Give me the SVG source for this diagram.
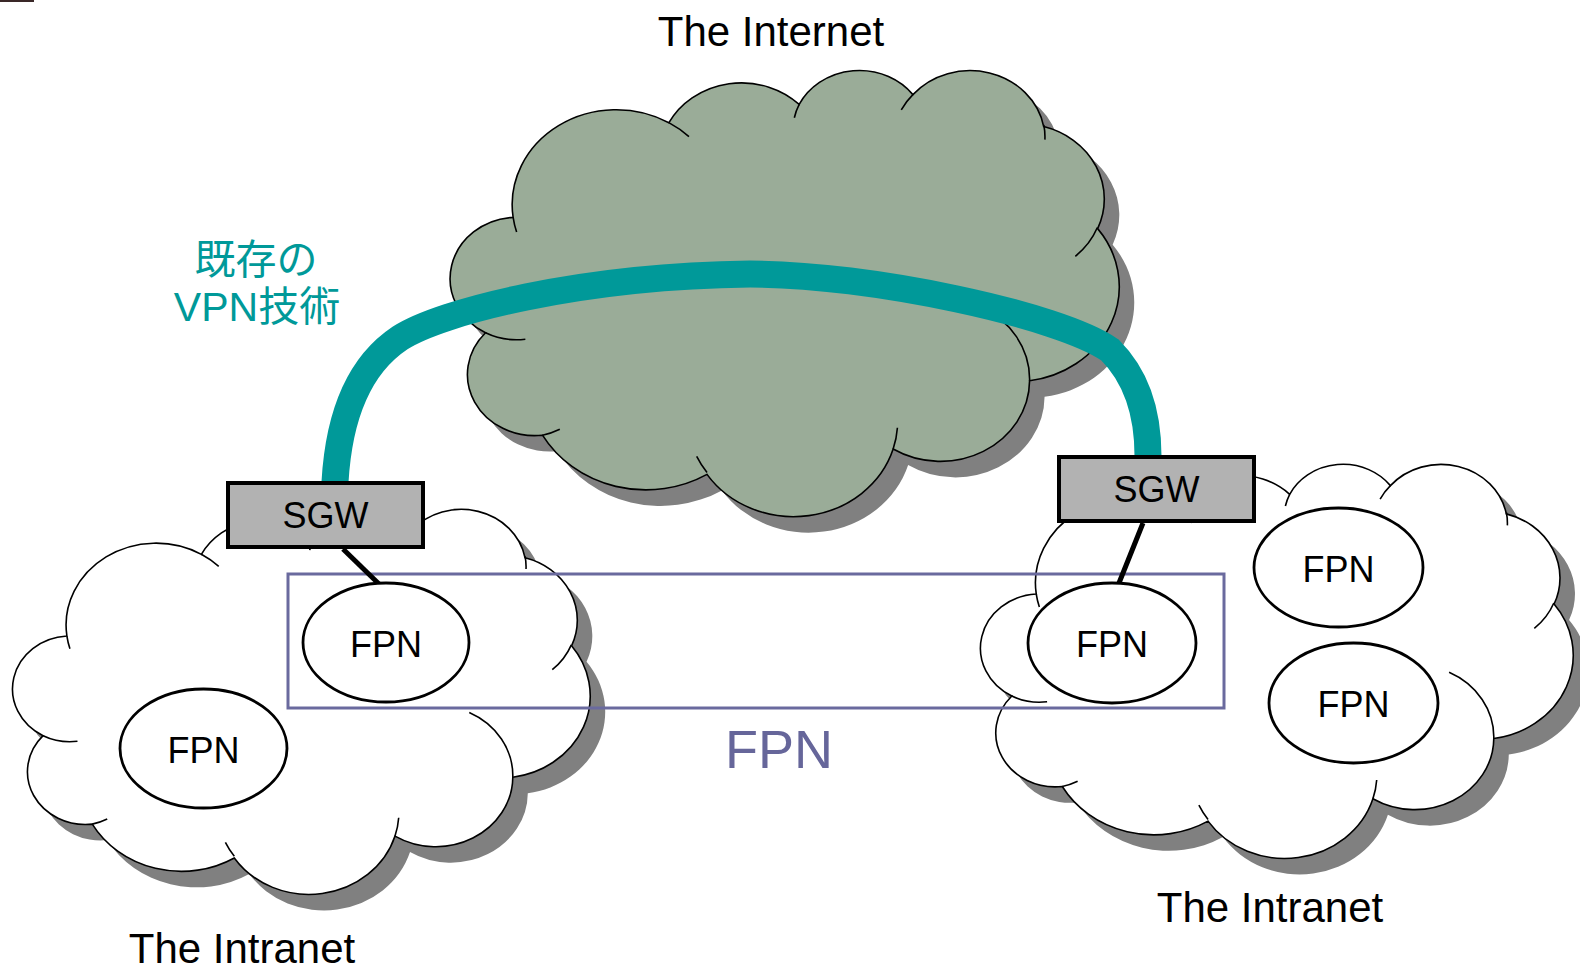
<svg xmlns="http://www.w3.org/2000/svg" width="1580" height="970" viewBox="0 0 1580 970">
<style>
  .shadow{fill:#808080;stroke:none;}
  .body-net{fill:#9AAC98;stroke:#000;stroke-width:1.6;}
  .body-intra{fill:#FFFFFF;stroke:#000;stroke-width:1.6;}
  .arcs{fill:none;stroke:#000;stroke-width:1.6;}
  .sgw rect{fill:#B2B2B2;stroke:#000;stroke-width:4;}
  .lbl{font-family:"Liberation Sans",Arial,sans-serif;fill:#000;text-anchor:middle;}
  .fpn ellipse{fill:#FFFFFF;stroke:#000;stroke-width:2.8;}
  .tube{fill:none;stroke:#009999;stroke-width:27;}
  .link{stroke:#000;stroke-width:5;}
  .jp{font-family:"Liberation Sans","Noto Sans CJK JP",sans-serif;font-size:41px;fill:#009999;text-anchor:middle;}
</style>
<defs>
  <path id="cloudShape" vector-effect="non-scaling-stroke" d="M3900 14370 A6753 9190 0 0 1 14004 5203 A5333 7267 0 0 1 22455 3431 A4365 5945 0 0 1 29832 2482 A4857 6595 0 0 1 38316 5578 A5333 7273 0 0 1 41815 15462 A6775 9220 0 0 1 37400 30204 A5785 7867 0 0 1 28550 36813 A6752 9215 0 0 1 16475 39266 A7720 10543 0 0 1 5805 35469 A4360 5918 0 0 1 2111 25549 A4345 5945 0 0 1 3900 14370 Z"/>
  <path id="cloudArcs" vector-effect="non-scaling-stroke" d="M4693 26177 A4345 5945 0 0 1 2111 25549 M6928 34899 A4360 5918 0 0 1 5805 35469 M16478 39090 A6752 9215 0 0 1 15807 37523 M28827 34751 A6752 9215 0 0 1 28550 36813 M34129 22954 A5785 7867 0 0 1 37400 30204 M41798 15354 A5333 7273 0 0 1 40367 18139 M38324 5426 A4857 6595 0 0 1 38393 6841 M29078 3952 A4857 6595 0 0 1 29832 2482 M22141 4720 A4365 5945 0 0 1 22455 3431 M14000 5192 A6753 9190 0 0 1 15306 6553 M4127 15789 A6753 9190 0 0 1 3900 14370"/>
</defs>

<rect x="0" y="0" width="34" height="2" fill="#3A2828"/>

<g id="internet-cloud">
  <use href="#cloudShape" class="shadow" transform="translate(468,85) scale(0.0154167,0.0103241)"/>
  <use href="#cloudShape" class="body-net" transform="translate(453,69) scale(0.0154167,0.0103241)"/>
  <use href="#cloudArcs" class="arcs" transform="translate(453,69) scale(0.0154167,0.0103241)"/>
  <text class="lbl" x="771" y="46" font-size="42">The Internet</text>
</g>

<g id="intranet-left">
  <use href="#cloudShape" class="shadow" transform="translate(30,524) scale(0.0133102,0.0089120)"/>
  <use href="#cloudShape" class="body-intra" transform="translate(15,508) scale(0.0133102,0.0089120)"/>
  <use href="#cloudArcs" class="arcs" transform="translate(15,508) scale(0.0133102,0.0089120)"/>
  <text class="lbl" x="242" y="963" font-size="42">The Intranet</text>
</g>

<g id="intranet-right">
  <use href="#cloudShape" class="shadow" transform="translate(998,479) scale(0.0136574,0.0091204)"/>
  <use href="#cloudShape" class="body-intra" transform="translate(983,463) scale(0.0136574,0.0091204)"/>
  <use href="#cloudArcs" class="arcs" transform="translate(983,463) scale(0.0136574,0.0091204)"/>
  <text class="lbl" x="1270" y="922" font-size="42">The Intranet</text>
</g>

<g id="fpn-domain">
  <rect x="288" y="574" width="936" height="134" fill="none" stroke="#6A6A9E" stroke-width="3"/>
  <text x="779" y="768" font-family="'Liberation Sans',Arial,sans-serif" font-size="54" fill="#66669A" text-anchor="middle">FPN</text>
</g>

<g id="connectors">
  <path class="tube" d="M335 482 C338 430 352 370 400 338 C440 312 580 276 750 274 C870 274 1060 315 1110 350 C1135 375 1148 410 1148 456"/>
  <line class="link" x1="343" y1="549" x2="379" y2="584"/>
  <line class="link" x1="1143" y1="523" x2="1119" y2="583"/>
</g>

<g id="vpn-label">
  <text class="jp" x="256" y="274">既存の</text>
  <text class="jp" x="257" y="321">VPN技術</text>
</g>

<g id="sgw-left" class="sgw">
  <rect x="228" y="483" width="195" height="64"/>
  <text class="lbl" x="325.5" y="528" font-size="36">SGW</text>
</g>
<g id="sgw-right" class="sgw">
  <rect x="1059" y="457" width="195" height="64"/>
  <text class="lbl" x="1156.5" y="502" font-size="36">SGW</text>
</g>

<g id="fpn-left-1" class="fpn">
  <ellipse cx="386" cy="642.5" rx="83" ry="59.5"/>
  <text class="lbl" x="386" y="656.5" font-size="36">FPN</text>
</g>
<g id="fpn-left-2" class="fpn">
  <ellipse cx="203.5" cy="748.5" rx="83.5" ry="59.5"/>
  <text class="lbl" x="203.5" y="762.5" font-size="36">FPN</text>
</g>
<g id="fpn-right-1" class="fpn">
  <ellipse cx="1112" cy="643" rx="84" ry="60"/>
  <text class="lbl" x="1112" y="657" font-size="36">FPN</text>
</g>
<g id="fpn-right-2" class="fpn">
  <ellipse cx="1338.5" cy="567.5" rx="84.5" ry="59.5"/>
  <text class="lbl" x="1338.5" y="581.5" font-size="36">FPN</text>
</g>
<g id="fpn-right-3" class="fpn">
  <ellipse cx="1353.5" cy="703" rx="84.5" ry="60"/>
  <text class="lbl" x="1353.5" y="717" font-size="36">FPN</text>
</g>
</svg>
